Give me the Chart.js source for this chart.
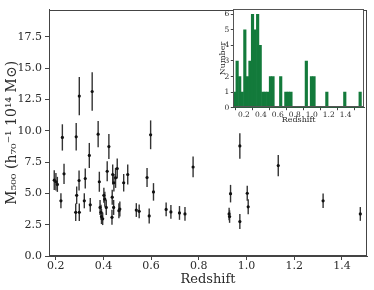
<!DOCTYPE html>
<html>
<head>
<meta charset="utf-8">
<script src="https://cdn.jsdelivr.net/npm/chart.js@4.4.0/dist/chart.umd.min.js"></script>
<style>
  body { margin: 0; background: #fff; }
  #wrap { position: relative; width: 374px; height: 290px; }
  #mainChart { position: absolute; left: 0; top: 0; }
  #histChart { position: absolute; left: 214px; top: 0; }
</style>
</head>
<body>
<div id="wrap">
  <canvas id="mainChart" width="374" height="290"></canvas>
  <canvas id="histChart" width="158" height="128"></canvas>
</div>
<script>
// Cluster data
const redshifts = [0.194, 0.201, 0.207, 0.222, 0.228, 0.235, 0.284, 0.286, 0.288, 0.298,
  0.299, 0.299, 0.320, 0.324, 0.341, 0.345, 0.353, 0.378, 0.383, 0.386,
  0.390, 0.392, 0.397, 0.402, 0.406, 0.412, 0.416, 0.423, 0.436, 0.437,
  0.439, 0.443, 0.444, 0.451, 0.458, 0.465, 0.469, 0.485, 0.502, 0.538,
  0.550, 0.583, 0.592, 0.598, 0.610, 0.663, 0.683, 0.719, 0.742, 0.776,
  0.927, 0.929, 0.933, 0.972, 0.972, 1.003, 1.007, 1.133, 1.321, 1.477];
const masses = [6.06, 5.93, 5.72, 4.41, 9.47, 6.56, 3.49, 9.52, 4.85, 6.03,
  3.49, 12.77, 4.41, 6.19, 8.03, 4.09, 13.14, 9.73, 5.93, 3.88,
  3.49, 3.15, 2.97, 4.85, 4.54, 3.88, 6.77, 8.74, 3.09, 4.70,
  6.51, 3.88, 5.85, 6.24, 6.98, 3.62, 3.75, 5.85, 6.51, 3.67,
  3.57, 6.27, 3.20, 9.68, 5.12, 3.72, 3.52, 3.44, 3.36, 7.11,
  3.36, 3.15, 4.98, 8.79, 2.75, 5.01, 3.93, 7.22, 4.41, 3.36];
const massErrors = [0.79, 0.70, 0.60, 0.60, 1.05, 0.80, 0.70, 1.10, 0.70, 0.80,
  0.70, 1.53, 0.60, 0.80, 1.00, 0.55, 1.53, 1.05, 0.80, 0.60,
  0.60, 0.60, 0.50, 0.60, 0.60, 0.60, 0.80, 1.00, 0.60, 0.60,
  0.80, 0.60, 0.70, 0.80, 0.80, 0.60, 0.60, 0.70, 0.80, 0.55,
  0.55, 0.75, 0.60, 1.15, 0.70, 0.55, 0.55, 0.55, 0.55, 0.83,
  0.50, 0.50, 0.70, 1.02, 0.60, 0.60, 0.60, 0.85, 0.58, 0.55];

// Histogram of redshifts (inset): 50 bins + one empty bin up to the axis end
const binStart = 0.185;
const binWidth = 0.0259;
const binCounts = [1, 3, 2, 1, 5, 2, 3, 6, 5, 6,
  4, 1, 1, 1, 2, 2, 0, 0, 2, 0,
  1, 1, 1, 0, 0, 0, 0, 0, 3, 0,
  2, 2, 0, 0, 0, 0, 1, 0, 0, 0,
  0, 0, 0, 1, 0, 0, 0, 0, 0, 1, 0];
const binLabels = binCounts.map((c, i) => (binStart + binWidth * (i + 0.5)).toFixed(3));

const serif = 'DejaVu Serif';
const axisColor = '#444';
const textColor = '#2b2b2b';

// frame around the plotting area (top & right sides too)
const framePlugin = {
  id: 'frame',
  beforeDraw(chart, args, opts) {
    if (opts.fill) {
      const a = chart.chartArea;
      chart.ctx.save();
      chart.ctx.fillStyle = opts.fill;
      chart.ctx.fillRect(a.left, a.top, a.right - a.left, a.bottom - a.top);
      chart.ctx.restore();
    }
  },
  afterDraw(chart, args, opts) {
    const a = chart.chartArea;
    const ctx = chart.ctx;
    ctx.save();
    ctx.strokeStyle = opts.color || axisColor;
    ctx.lineWidth = 1;
    ctx.strokeRect(Math.round(a.left) + 0.5, Math.round(a.top) + 0.5,
      Math.round(a.right - a.left) - 1, Math.round(a.bottom - a.top) - 1);
    ctx.restore();
  }
};

// vertical error bars, drawn with the chart's scales
const errorBarPlugin = {
  id: 'errorBars',
  beforeDatasetsDraw(chart) {
    const ctx = chart.ctx;
    const xs = chart.scales.x, ys = chart.scales.y;
    ctx.save();
    ctx.strokeStyle = '#333';
    ctx.lineWidth = 1.4;
    for (let i = 0; i < redshifts.length; i++) {
      const px = xs.getPixelForValue(redshifts[i]);
      ctx.beginPath();
      ctx.moveTo(px, ys.getPixelForValue(masses[i] - massErrors[i]));
      ctx.lineTo(px, ys.getPixelForValue(masses[i] + massErrors[i]));
      ctx.stroke();
    }
    ctx.restore();
  }
};

const mainPoints = redshifts.map((z, i) => ({ x: z, y: masses[i] }));

new Chart(document.getElementById('mainChart'), {
  type: 'scatter',
  data: {
    datasets: [{
      data: mainPoints,
      pointRadius: 1.6,
      pointHoverRadius: 1.6,
      backgroundColor: '#111',
      borderWidth: 0
    }]
  },
  options: {
    responsive: false,
    animation: false,
    devicePixelRatio: 1,
    layout: { padding: { top: 6, right: 7, left: 0, bottom: 0 } },
    plugins: { legend: { display: false }, tooltip: { enabled: false }, frame: { color: '#444' } },
    scales: {
      x: {
        type: 'linear',
        min: 0.172,
        max: 1.505,
        afterFit: (s) => { s.height = 34; },
        grid: { drawOnChartArea: false, tickLength: 4, color: axisColor },
        border: { color: axisColor },
        ticks: {
          stepSize: 0.2,
          includeBounds: false,
          padding: 0,
          color: textColor,
          font: { family: serif, size: 11 },
          callback: (v) => v.toFixed(1)
        },
        title: {
          display: true,
          text: 'Redshift',
          color: textColor,
          font: { family: serif, size: 13 },
          padding: { top: 0, bottom: 3 }
        }
      },
      y: {
        min: 0,
        max: 19.68,
        afterFit: (s) => { s.width = 49; },
        grid: { drawOnChartArea: false, tickLength: 4, color: axisColor },
        border: { color: axisColor },
        ticks: {
          stepSize: 2.5,
          includeBounds: false,
          padding: 3,
          color: textColor,
          font: { family: serif, size: 11 },
          callback: (v) => v.toFixed(1)
        },
        title: {
          display: true,
          text: 'M₅₀₀ (h₇₀⁻¹ 10¹⁴ M⊙)',
          color: textColor,
          font: { family: serif, size: 14 },
          padding: { top: 3.5, bottom: 0 }
        }
      }
    }
  },
  plugins: [errorBarPlugin, framePlugin]
});

// inset histogram: bars on a hidden category axis, ticks on a linear axis
new Chart(document.getElementById('histChart'), {
  type: 'bar',
  data: {
    labels: binLabels,
    datasets: [{
      data: binCounts,
      xAxisID: 'bins',
      backgroundColor: '#137a3b',
      borderWidth: 0,
      inflateAmount: 0.3,
      barPercentage: 1,
      categoryPercentage: 1
    }]
  },
  options: {
    responsive: false,
    animation: false,
    devicePixelRatio: 1,
    layout: { padding: { top: 9.3, right: 8, left: 0, bottom: 0 } },
    plugins: { legend: { display: false }, tooltip: { enabled: false }, frame: { fill: '#fff', color: '#555' } },
    scales: {
      bins: {
        type: 'category',
        position: 'bottom',
        display: false,
        offset: true
      },
      x: {
        type: 'linear',
        position: 'bottom',
        min: binStart,
        max: binStart + binWidth * binCounts.length,
        afterFit: (s) => { s.height = 20.3; },
        grid: { drawOnChartArea: false, tickLength: 2.5, color: axisColor },
        border: { color: axisColor },
        ticks: {
          stepSize: 0.2,
          includeBounds: false,
          padding: 0,
          color: textColor,
          font: { family: serif, size: 7.5 },
          callback: (v) => v.toFixed(1)
        },
        title: {
          display: true,
          text: 'Redshift',
          color: textColor,
          font: { family: serif, size: 8 },
          padding: { top: 0, bottom: 3.5 }
        }
      },
      y: {
        min: 0,
        max: 6.32,
        afterFit: (s) => { s.width = 19.3; },
        grid: { drawOnChartArea: false, tickLength: 2.5, color: axisColor },
        border: { color: axisColor },
        ticks: {
          stepSize: 1,
          includeBounds: false,
          padding: 1.5,
          color: textColor,
          font: { family: serif, size: 7.5 }
        },
        title: {
          display: true,
          text: 'Number',
          color: textColor,
          font: { family: serif, size: 8 },
          padding: { top: 4, bottom: 0 }
        }
      }
    }
  },
  plugins: [framePlugin]
});
</script>
</body>
</html>
